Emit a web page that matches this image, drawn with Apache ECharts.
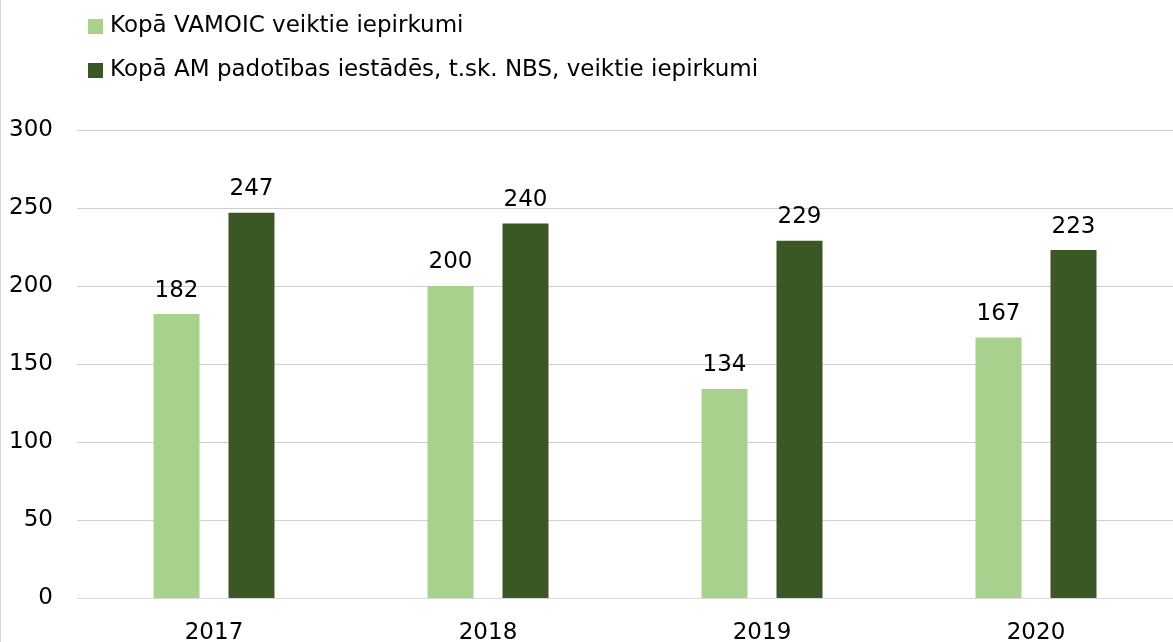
<!DOCTYPE html>
<html>
<head>
<meta charset="utf-8">
<script src="https://cdn.jsdelivr.net/npm/echarts@6/dist/echarts.min.js"></script>
<style>
html,body{margin:0;padding:0;background:#fff;}
#chart{width:1173px;height:642px;}
</style>
</head>
<body>
<div id="chart"></div>
<script>
const categories = ['2017', '2018', '2019', '2020'];
const seriesNames = ['Kopā VAMOIC veiktie iepirkumi', 'Kopā AM padotības iestādēs, t.sk. NBS, veiktie iepirkumi'];
const vamoic = [182, 200, 134, 167];
const amPadotibas = [247, 240, 229, 223];
const yTicks = { min: 0, max: 300, interval: 50 };

const font = 'DejaVu Sans, Verdana, sans-serif';
const fs = 23;
const chart = echarts.init(document.getElementById('chart'));
const labelStyle = { show: true, position: 'top', distance: 12, fontFamily: font, fontSize: fs, color: '#000' };
chart.setOption({
  animation: false,
  textStyle: { fontFamily: font },
  graphic: [{ type: 'line', shape: { x1: 0.5, y1: 0, x2: 0.5, y2: 642 }, style: { stroke: '#d9d9d9', lineWidth: 1 } }],
  legend: {
    orient: 'vertical', left: 83, top: 10, itemWidth: 15, itemHeight: 15, itemGap: 21,
    icon: 'rect',
    textStyle: { fontFamily: font, fontSize: fs, color: '#000', padding: [0, 0, 0, 2] },
    data: seriesNames
  },
  grid: { left: 77, right: 0, top: 130, bottom: 44, containLabel: false, outerBoundsMode: 'none' },
  xAxis: {
    type: 'category', data: categories,
    axisLine: { lineStyle: { color: '#d9d9d9', width: 1 } },
    axisTick: { show: false },
    axisLabel: { fontFamily: font, fontSize: fs, color: '#000', margin: 24 }
  },
  yAxis: {
    type: 'value', min: yTicks.min, max: yTicks.max, interval: yTicks.interval,
    axisLine: { show: false }, axisTick: { show: false },
    splitLine: { lineStyle: { color: '#d0d0d0', width: 1 } },
    axisLabel: { fontFamily: font, fontSize: fs, color: '#000', margin: 24 }
  },
  series: [
    { name: seriesNames[0], type: 'bar', data: vamoic, barWidth: 46, barGap: '63%', itemStyle: { color: '#a9d18e' }, label: labelStyle },
    { name: seriesNames[1], type: 'bar', data: amPadotibas, barWidth: 46, barGap: '63%', itemStyle: { color: '#3a5724' }, label: labelStyle }
  ]
});
</script>
</body>
</html>
